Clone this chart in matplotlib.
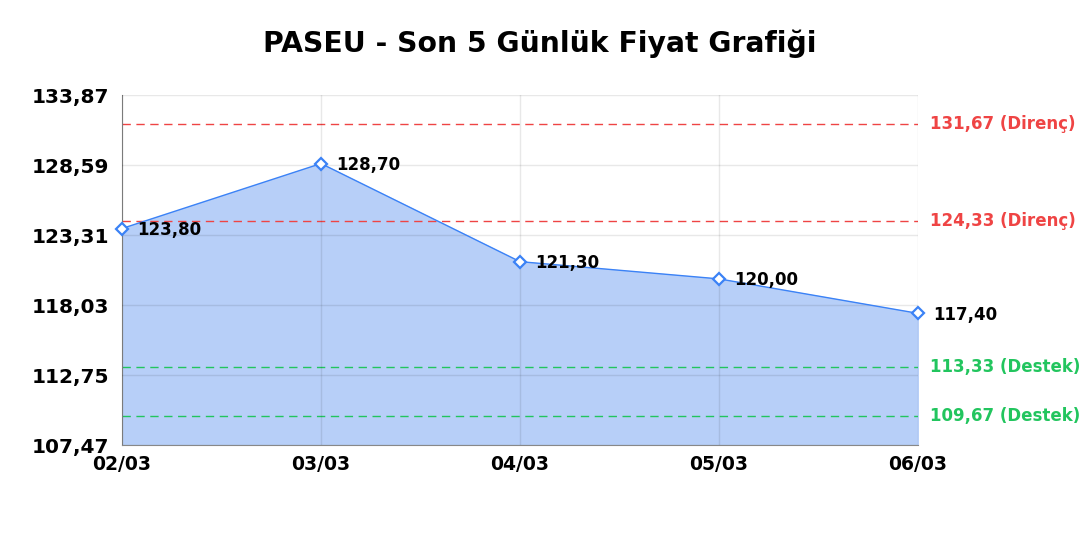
import numpy as np
import matplotlib.pyplot as plt

dates = ['02/03', '03/03', '04/03', '05/03', '06/03']
prices = [123.80, 128.70, 121.30, 120.00, 117.40]
resistance = [131.67, 124.33]
support = [113.33, 109.67]
y_ticks = [107.47, 112.75, 118.03, 123.31, 128.59, 133.87]

def fmt(v):
    return f'{v:.2f}'.replace('.', ',')

fig = plt.figure(figsize=(10.8, 5.4), dpi=100)
ax = fig.add_axes([122 / 1080, 1 - 445 / 540, (918 - 122) / 1080, (445 - 95) / 540])

x = np.arange(len(dates))
ax.fill_between(x, prices, y_ticks[0], color='#b7cff8', zorder=1)
ax.plot(x, prices, color='#3b82f6', lw=1, zorder=3)
ax.plot(x, prices, 'D', ms=6, mfc='white', mec='#3b82f6', mew=1.6, zorder=4, clip_on=False)
for xi, p in zip(x, prices):
    ax.annotate(fmt(p), (xi, p), xytext=(11, -1), textcoords='offset points',
                va='center', ha='left', fontsize=12, fontweight='bold', zorder=5)

for r in resistance:
    ax.axhline(r, color='#ef4444', ls=(0, (6, 4)), lw=1, zorder=2)
    ax.text(1.015, r, f'{fmt(r)} (Direnç)', transform=ax.get_yaxis_transform(),
            color='#ef4444', fontsize=12, fontweight='bold', va='center', clip_on=False)
for s in support:
    ax.axhline(s, color='#22c55e', ls=(0, (6, 4)), lw=1, zorder=2)
    ax.text(1.015, s, f'{fmt(s)} (Destek)', transform=ax.get_yaxis_transform(),
            color='#22c55e', fontsize=12, fontweight='bold', va='center', clip_on=False)

ax.set_xlim(0, len(dates) - 1)
ax.set_ylim(y_ticks[0], y_ticks[-1])
ax.set_xticks(x)
ax.set_xticklabels(dates, fontsize=13.5, fontweight='bold')
ax.set_yticks(y_ticks)
ax.set_yticklabels([fmt(t) for t in y_ticks], fontsize=14.5, fontweight='bold')
ax.tick_params(axis='x', length=0, pad=7)
ax.tick_params(axis='y', length=0, pad=9)
ax.grid(True, color='#000000', alpha=0.09, lw=1)
ax.set_axisbelow(False)
for gl in ax.get_xgridlines() + ax.get_ygridlines():
    gl.set_zorder(1.5)
for side in ['top', 'right']:
    ax.spines[side].set_visible(False)
ax.spines['left'].set_color('#888888')
ax.spines['bottom'].set_color('#888888')

fig.text(540 / 1080, 1 - 44 / 540, 'PASEU - Son 5 Günlük Fiyat Grafiği',
         ha='center', va='center', fontsize=20.3, fontweight='bold')

fig.savefig('out.png', dpi=100)
